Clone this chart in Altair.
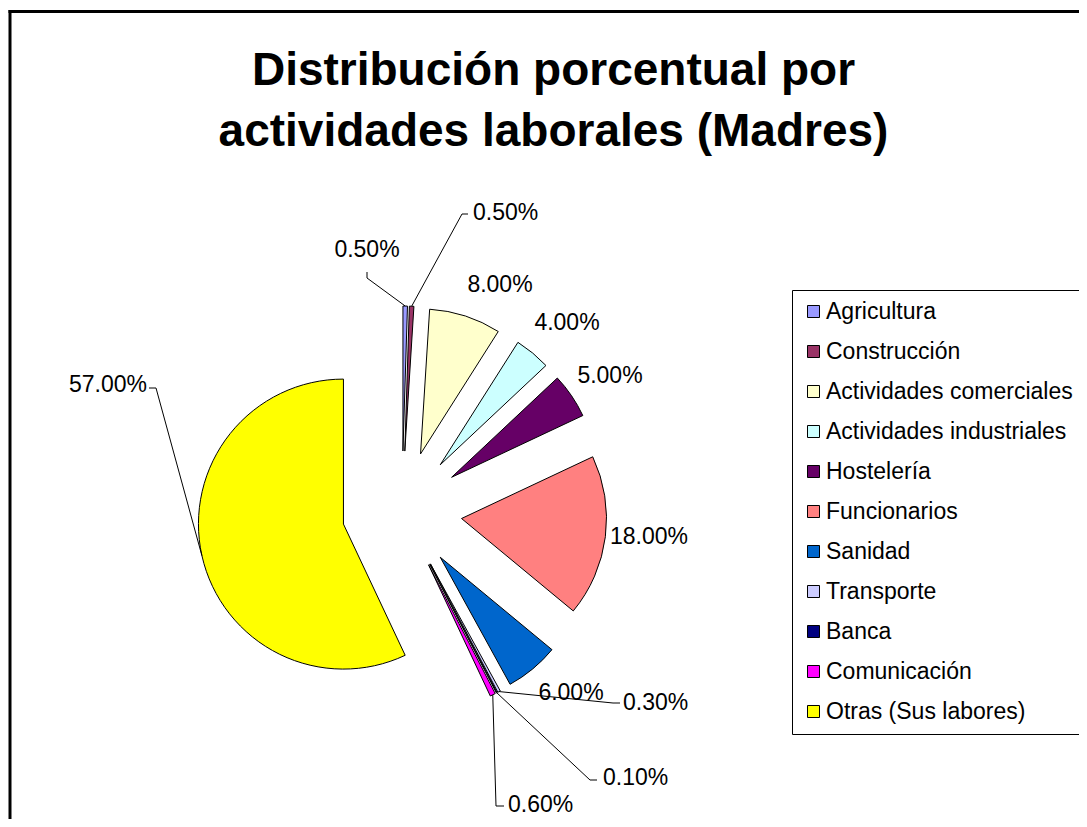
import math
import numpy as np
import pandas as pd
import altair as alt

# ---------------- data ----------------
categories = [
    "Agricultura", "Construcción", "Actividades comerciales",
    "Actividades industriales", "Hostelería", "Funcionarios", "Sanidad",
    "Transporte", "Banca", "Comunicación", "Otras (Sus labores)",
]
percentages = [0.5, 0.5, 8.0, 4.0, 5.0, 18.0, 6.0, 0.3, 0.1, 0.6, 57.0]
title_lines = ["Distribución porcentual por", "actividades laborales (Madres)"]

# ---------------- styles / layout ----------------
colors = ["#9999FF", "#993366", "#FFFFCC", "#CCFFFF", "#660066", "#FF8080",
          "#0066CC", "#CCCCFF", "#000080", "#FF00FF", "#FFFF00"]
FONT = "Liberation Sans"
W, H = 1071, 811
CX, CY = 394, 503          # pie centre (chart px)
R = 145                    # pie radius
EXPLODE = 60               # explosion distance of every slice

# label placement relative to pie centre (text anchor, alignment, leader elbow/stub)
label_layout = {
    "Agricultura": dict(text=(-35, -261), align="center", elbow=(-35, -233), stub=(-35, -239)),
    "Construcción": dict(text=(71, -298), align="left", elbow=(60, -297), stub=(66, -297)),
    "Actividades comerciales": dict(text=(98, -226), align="center"),
    "Actividades industriales": dict(text=(165, -188), align="center"),
    "Hostelería": dict(text=(208, -135), align="center"),
    "Funcionarios": dict(text=(247, 26), align="center"),
    "Sanidad": dict(text=(169, 182), align="center"),
    "Transporte": dict(text=(221, 192), align="left", elbow=(211, 192), stub=(218, 192)),
    "Banca": dict(text=(201, 267), align="left", elbow=(188, 269), stub=(195, 269)),
    "Comunicación": dict(text=(106, 294), align="left", elbow=(94, 295), stub=(102, 295)),
    "Otras (Sus labores)": dict(text=(-255, -126), align="right", elbow=(-246, -123), stub=(-253, -123)),
}

# ---------------- tables ----------------
pie_df = pd.DataFrame({
    "category": categories,
    "value": percentages,
    "order": list(range(len(categories))),
})

vals = np.array(percentages, dtype=float)
ends = np.cumsum(vals)
starts = ends - vals
mids = (starts + ends) / 2.0 / 100.0 * 2 * math.pi

label_rows, leader_rows = [], []
for i, cat in enumerate(categories):
    lay = label_layout[cat]
    label_rows.append(dict(category=cat, label=f"{percentages[i]:.2f}%",
                           lx=CX + lay["text"][0], ly=CY + lay["text"][1],
                           align=lay["align"]))
    if "elbow" in lay:
        tip_x = CX + (EXPLODE + R) * math.sin(mids[i])
        tip_y = CY - (EXPLODE + R) * math.cos(mids[i])
        pts = [(tip_x, tip_y),
               (CX + lay["elbow"][0], CY + lay["elbow"][1]),
               (CX + lay["stub"][0], CY + lay["stub"][1])]
        for s, (x, y) in enumerate(pts):
            leader_rows.append(dict(category=cat, seq=s, x=x, y=y))
label_df = pd.DataFrame(label_rows)
leader_df = pd.DataFrame(leader_rows)

# ---------------- chart ----------------
pie = alt.Chart(pie_df).transform_window(
    end="sum(value)", sort=[alt.SortField("order")], frame=[None, 0]
).transform_calculate(
    start="datum.end - datum.value",
    mid="(datum.start + datum.end) / 100 * PI",
    px=f"{CX} + {EXPLODE} * sin(datum.mid)",
    py=f"{CY} - {EXPLODE} * cos(datum.mid)",
).mark_arc(radius=R, stroke="black", strokeWidth=1).encode(
    x=alt.X("px:Q", scale=None, axis=None),
    y=alt.Y("py:Q", scale=None, axis=None),
    theta=alt.Theta("start:Q", stack=False,
                    scale=alt.Scale(domain=[0, 100], range=[0, 2 * math.pi])),
    theta2="end:Q",
    color=alt.Color(
        "category:N",
        scale=alt.Scale(domain=categories, range=colors),
        sort=categories,
        legend=alt.Legend(
            title=None, orient="none", legendX=784, legendY=282,
            symbolType="square", symbolSize=144,
            symbolStrokeColor="black", symbolStrokeWidth=1,
            labelFont=FONT, labelFontSize=23, labelColor="black",
            labelOffset=1, labelLimit=400,
            rowPadding=16, padding=10,
            strokeColor="black", fillColor="white",
        ),
    ),
)

leaders = alt.Chart(leader_df).mark_line(color="black", strokeWidth=1).encode(
    x=alt.X("x:Q", scale=None, axis=None),
    y=alt.Y("y:Q", scale=None, axis=None),
    detail="category:N",
    order="seq:O",
)

text_layers = []
for al in ["left", "center", "right"]:
    text_layers.append(
        alt.Chart(label_df).transform_filter(f"datum.align == '{al}'")
        .mark_text(align=al, baseline="middle", font=FONT, fontSize=23, color="black")
        .encode(
            x=alt.X("lx:Q", scale=None, axis=None),
            y=alt.Y("ly:Q", scale=None, axis=None),
            text="label:N",
        )
    )

one = pd.DataFrame({"k": [0]})
title = alt.Chart(one).mark_text(
    align="center", baseline="alphabetic", font=FONT, fontSize=46,
    fontWeight="bold", color="black", lineHeight=61,
).encode(x=alt.value(545.5), y=alt.value(77), text=alt.value(title_lines))

border_left = alt.Chart(one).mark_rule(color="black", strokeWidth=3).encode(
    x=alt.value(2), y=alt.value(2), y2=alt.value(H))
border_top = alt.Chart(one).mark_rule(color="black", strokeWidth=3).encode(
    x=alt.value(0.5), x2=alt.value(W), y=alt.value(3.5))

chart = alt.layer(
    pie, leaders, *text_layers, title, border_left, border_top
).properties(
    width=W, height=H, autosize=alt.AutoSizeParams(type="none"), padding=0,
    background="white",
).configure_view(stroke=None)

chart.save("out.html", embed_options={"renderer": "svg", "actions": False})
